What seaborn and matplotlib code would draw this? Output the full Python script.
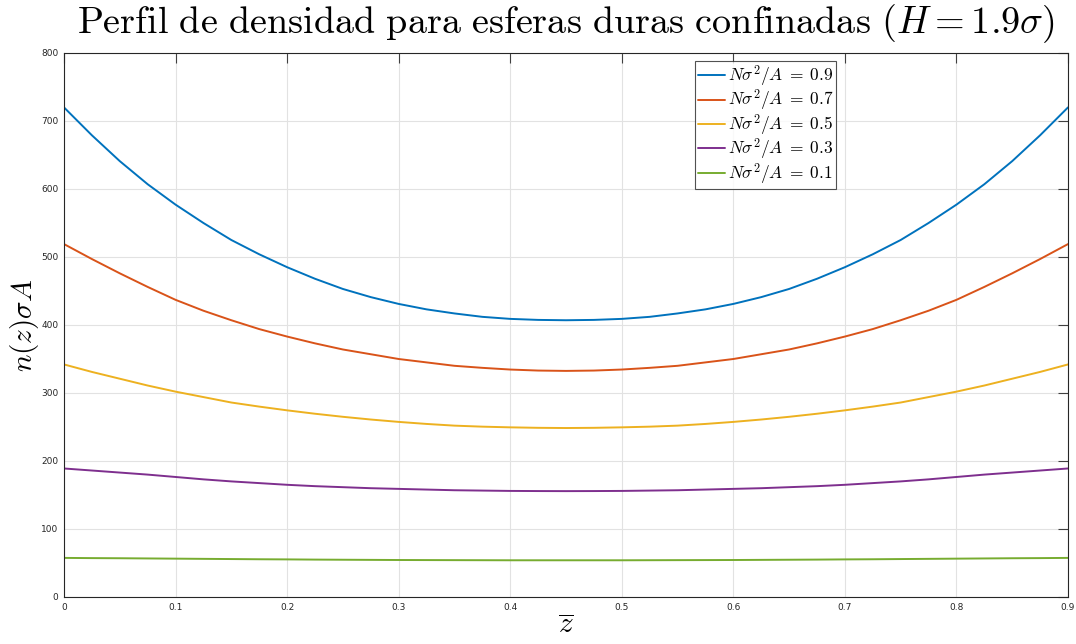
"""
Perfil de densidad para esferas duras confinadas (H = 1.9 sigma)
"""

import numpy as np
import pandas as pd
import matplotlib
matplotlib.use('Agg')
import matplotlib.pyplot as plt
import seaborn as sns

# Posiciones en z (muestreo cada 0.025)
z_vals = np.linspace(0.0, 0.9, 37)

# n(z) sigma A para cada densidad superficial
n_09 = [720, 679, 641, 607, 577, 550, 525, 504, 485, 468, 453, 441, 431,
        423, 417, 412, 409, 407.5, 407, 407.5, 409, 412, 417, 423, 431,
        441, 453, 468, 485, 504, 525, 550, 577, 607, 641, 679, 720]
n_07 = [519, 497, 476, 456, 437, 421, 407, 394, 383, 373, 364, 357, 350,
        345, 340, 337, 334.5, 333, 332.5, 333, 334.5, 337, 340, 345, 350,
        357, 364, 373, 383, 394, 407, 421, 437, 456, 476, 497, 519]
n_05 = [342, 331, 321, 311, 302, 294, 286, 280, 274.5, 269.5, 265, 261,
        257.5, 254.5, 252, 250.5, 249.5, 248.8, 248.5, 248.8, 249.5, 250.5,
        252, 254.5, 257.5, 261, 265, 269.5, 274.5, 280, 286, 294, 302, 311,
        321, 331, 342]
n_03 = [189, 186, 183, 180, 176.5, 173, 170, 167.5, 165, 163, 161.5, 160,
        159, 158, 157, 156.5, 156, 155.8, 155.7, 155.8, 156, 156.5, 157,
        158, 159, 160, 161.5, 163, 165, 167.5, 170, 173, 176.5, 180, 183,
        186, 189]
n_01 = [57.5, 57.2, 57.0, 56.7, 56.4, 56.1, 55.8, 55.5, 55.3, 55.0, 54.8,
        54.6, 54.4, 54.3, 54.2, 54.1, 54.0, 54.0, 54.0, 54.0, 54.0, 54.1,
        54.2, 54.3, 54.4, 54.6, 54.8, 55.0, 55.3, 55.5, 55.8, 56.1, 56.4,
        56.7, 57.0, 57.2, 57.5]

labels = [r'$N\sigma^2/A\;=\;0.9$', r'$N\sigma^2/A\;=\;0.7$', r'$N\sigma^2/A\;=\;0.5$',
          r'$N\sigma^2/A\;=\;0.3$', r'$N\sigma^2/A\;=\;0.1$']
series = [n_09, n_07, n_05, n_03, n_01]
colors = ['#0072BD', '#D95319', '#EDB120', '#7E2F8E', '#77AC30']

# Tabla larga para seaborn
df = pd.concat([pd.DataFrame({'z': z_vals, 'n': s, 'caso': lab})
                for s, lab in zip(series, labels)], ignore_index=True)

sns.set_theme(style='whitegrid')
plt.rcParams['mathtext.fontset'] = 'cm'
plt.rcParams['font.family'] = ['DejaVu Sans']

fig = plt.figure(figsize=(10.76, 6.44), dpi=100)
ax = fig.add_axes([64 / 1076, 1 - 597 / 644, (1068 - 64) / 1076, (597 - 53) / 644])

sns.lineplot(data=df, x='z', y='n', hue='caso', hue_order=labels,
             palette=colors, linewidth=1.4, sort=False, ax=ax)

ax.set_xlim(0, 0.9)
ax.set_ylim(0, 800)
ax.set_xticks(np.arange(0, 0.91, 0.1))
ax.set_xticklabels(['0', '0.1', '0.2', '0.3', '0.4', '0.5', '0.6', '0.7', '0.8', '0.9'])
ax.set_yticks(np.arange(0, 801, 100))

ax.set_facecolor('white')
ax.grid(True, color='#e2e2e2', linewidth=0.8)
for sp in ax.spines.values():
    sp.set_visible(True)
    sp.set_color('#262626')
    sp.set_linewidth(0.8)
ax.tick_params(axis='both', direction='in', length=7, width=0.8, color='#404040',
               labelsize=6.5, labelcolor='#262626', top=True, right=True, pad=4)

ax.set_title(r'$\mathrm{Perfil\ de\ densidad\ para\ esferas\ duras\ confinadas}\ (H=1.9\sigma)$',
             fontsize=27.5, pad=14, color='black')
ax.set_xlabel(r'$\overline{z}$', fontsize=21, labelpad=0, color='black')
ax.set_ylabel(r'$n(z)\sigma A$', fontsize=21, labelpad=0, color='black')

leg = ax.legend(loc='upper left', bbox_to_anchor=(631 / 1004, 0.985), fontsize=12.5,
                handlelength=1.6, handletextpad=0.15, labelspacing=-0.05,
                borderpad=0.15, borderaxespad=0, frameon=True, fancybox=False)
leg.get_frame().set_edgecolor('#262626')
leg.get_frame().set_linewidth(0.8)
for t in leg.get_texts():
    t.set_color('black')

fig.savefig('out.png', dpi=100)
